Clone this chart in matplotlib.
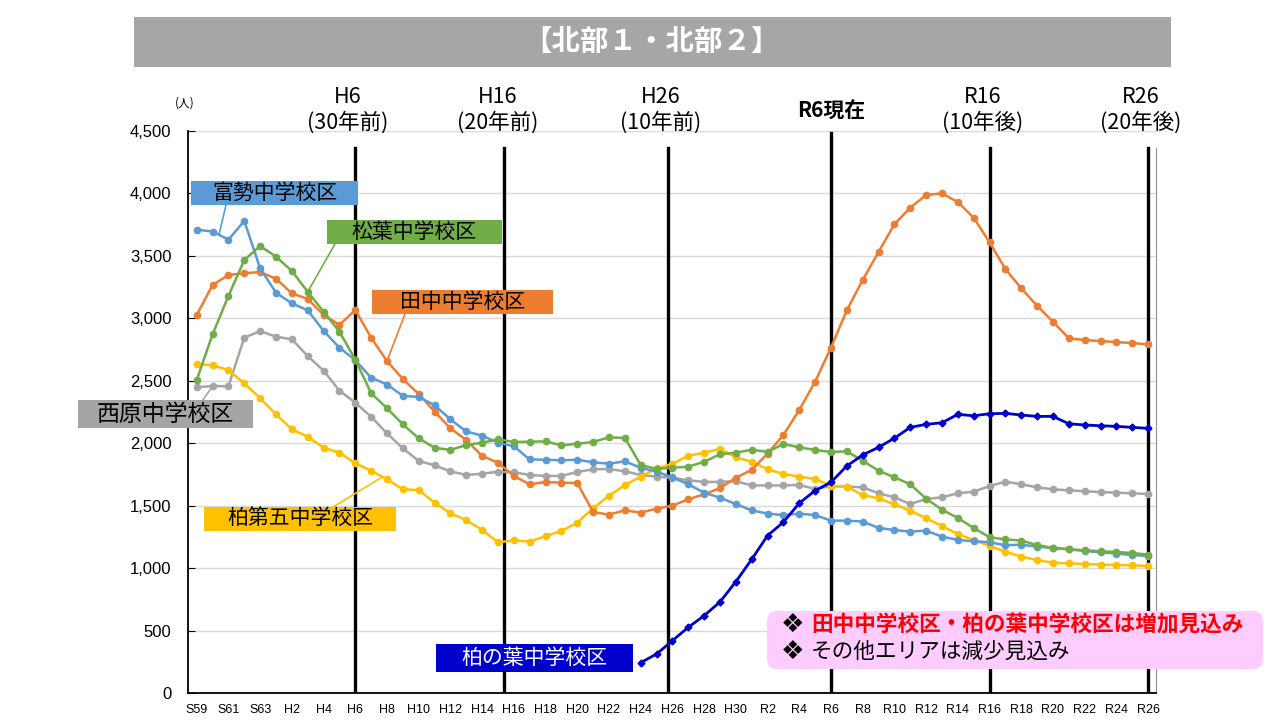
import matplotlib.pyplot as plt
import matplotlib.transforms as mtrans
from matplotlib.patches import Rectangle, FancyBboxPatch

# 1984 (S59) .. 2044 (R26)
years = list(range(1984, 2045))
tick_labels = ["S59", "S61", "S63", "H2", "H4", "H6", "H8", "H10", "H12", "H14",
               "H16", "H18", "H20", "H22", "H24", "H26", "H28", "H30", "R2", "R4",
               "R6", "R8", "R10", "R12", "R14", "R16", "R18", "R20", "R22", "R24", "R26"]

tomise = [3710, 3695, 3630, 3780, 3400, 3205, 3120, 3065, 2900, 2765,
          2665, 2525, 2470, 2380, 2370, 2305, 2190, 2095, 2060, 2005,
          1975, 1870, 1868, 1863, 1868, 1847, 1836, 1855, 1804, 1772,
          1727, 1671, 1604, 1564, 1513, 1462, 1437, 1424, 1436, 1425,
          1380, 1380, 1373, 1322, 1305, 1292, 1300, 1252, 1225, 1215,
          1207, 1183, 1188, 1172, 1161, 1151, 1137, 1127, 1116, 1105, 1097]

matsuba = [2506, 2872, 3179, 3467, 3579, 3494, 3379, 3213, 3053, 2893,
           2670, 2400, 2280, 2151, 2039, 1964, 1946, 1986, 2004, 2031,
           2010, 2012, 2015, 1983, 1996, 2010, 2047, 2042, 1826, 1794,
           1804, 1812, 1852, 1911, 1924, 1948, 1930, 1994, 1967, 1946,
           1930, 1935, 1860, 1780, 1727, 1671, 1556, 1468, 1401, 1321,
           1247, 1230, 1220, 1185, 1161, 1151, 1143, 1135, 1129, 1121, 1108]

tanaka = [3027, 3267, 3347, 3361, 3371, 3317, 3200, 3155, 3027, 2947,
          3067, 2845, 2658, 2514, 2394, 2253, 2119, 2026, 1898, 1844,
          1738, 1671, 1690, 1684, 1681, 1449, 1428, 1463, 1444, 1476,
          1500, 1551, 1591, 1640, 1724, 1786, 1917, 2066, 2266, 2493,
          2765, 3064, 3307, 3531, 3753, 3886, 3987, 4001, 3931, 3806,
          3609, 3395, 3240, 3101, 2973, 2840, 2826, 2818, 2810, 2802, 2792]

nishihara = [2448, 2458, 2456, 2845, 2898, 2853, 2832, 2698, 2581, 2421,
             2325, 2212, 2079, 1959, 1858, 1823, 1775, 1746, 1756, 1772,
             1767, 1746, 1738, 1738, 1770, 1791, 1794, 1775, 1746, 1732,
             1724, 1703, 1690, 1690, 1696, 1662, 1662, 1662, 1666, 1634,
             1657, 1652, 1647, 1599, 1567, 1513, 1553, 1567, 1599, 1612,
             1657, 1692, 1671, 1647, 1631, 1623, 1615, 1609, 1604, 1599, 1593]

daigo = [2634, 2624, 2586, 2480, 2360, 2231, 2111, 2052, 1964, 1924,
         1839, 1780, 1711, 1631, 1625, 1524, 1439, 1385, 1305, 1207,
         1222, 1212, 1257, 1297, 1364, 1479, 1580, 1665, 1732, 1799,
         1834, 1900, 1924, 1954, 1887, 1852, 1791, 1754, 1732, 1714,
         1660, 1652, 1585, 1559, 1511, 1460, 1399, 1337, 1273, 1225,
         1177, 1132, 1092, 1065, 1043, 1038, 1033, 1028, 1025, 1022, 1017]

# 柏の葉 starts in H24 (2012)
kashiwanoha_years = list(range(2012, 2045))
kashiwanoha = [243, 312, 419, 526, 619, 729, 891, 1070, 1260, 1368,
               1520, 1620, 1687, 1818, 1906, 1967, 2040, 2127, 2151, 2164,
               2231, 2220, 2236, 2239, 2226, 2215, 2215, 2156, 2146, 2140,
               2135, 2127, 2119]

ref_years = [1994, 2004, 2014, 2024, 2034, 2044]
ref_top = ["H6", "H16", "H26", "", "R16", "R26"]
ref_bottom = ["(30年前)", "(20年前)", "(10年前)", "", "(10年後)", "(20年後)"]

W, H = 1287, 725
JP = ['Noto Sans CJK JP', 'DejaVu Sans']
NARROW = ['Liberation Sans Narrow', 'Liberation Sans', 'DejaVu Sans']
plt.rcParams['font.family'] = JP

fig = plt.figure(figsize=(W / 100, H / 100), dpi=100)
ax = fig.add_axes([188 / W, 1 - 693 / H, (1156 - 188) / W, (693 - 131) / H])
PX = mtrans.Affine2D().scale(1 / 100) + fig.dpi_scale_trans  # pixel coords, origin bottom-left


def fx(x):
    return x / W


def fy(y):
    return 1 - y / H


colors = {'富勢': '#5B9BD5', '松葉': '#70AD47', '田中': '#ED7D31',
          '西原': '#A5A5A5', '第五': '#FFC000', '柏の葉': '#0000CC'}

ax.plot(years, nishihara, color=colors['西原'], lw=1.8, marker='o', ms=4.5, zorder=3)
ax.plot(years, daigo, color=colors['第五'], lw=1.8, marker='o', ms=4.5, zorder=3)
ax.plot(years, tanaka, color=colors['田中'], lw=1.8, marker='o', ms=4.5, zorder=3)
ax.plot(years, tomise, color=colors['富勢'], lw=1.8, marker='o', ms=4.5, zorder=3)
ax.plot(years, matsuba, color=colors['松葉'], lw=1.8, marker='o', ms=4.5, zorder=3)
ax.plot(kashiwanoha_years, kashiwanoha, color=colors['柏の葉'], lw=2, marker='D', ms=3.5, zorder=3)

ax.set_xlim(1983.45, 2044.5)
ax.set_ylim(0, 4500)
ax.set_yticks(range(0, 4501, 500))
ax.set_yticklabels([f"{v:,}" for v in range(0, 4501, 500)], family=NARROW, fontsize=12)
ax.set_xticks(years[::2])
ax.set_xticklabels(tick_labels, family=NARROW, fontsize=9)
ax.tick_params(axis='y', direction='in', length=5, pad=12)
ax.tick_params(axis='x', length=0, pad=8)
ax.yaxis.grid(True, color='#D9D9D9', lw=1)
ax.set_axisbelow(True)
ax.spines['top'].set_visible(False)
ax.spines['left'].set_linewidth(1.3)
ax.spines['bottom'].set_linewidth(1.3)
ax.spines['right'].set_color('#909090')
ax.spines['right'].set_linewidth(0.8)
ax.spines['right'].set_bounds(0, 4365)

# reference year lines
nudge = [0, -0.6, -0.3, 0, 0, 0]
bt = mtrans.blended_transform_factory(ax.transData, fig.transFigure)
for yr, dn, top, bot in zip(ref_years, nudge, ref_top, ref_bottom):
    ymax = 0.997 if yr == 2024 else 0.97
    ax.axvline(yr + dn, ymax=ymax, color='black', lw=2.4, zorder=2)
    if top:
        ax.text(yr + dn - 0.45, fy(97), top, transform=bt, ha='center', va='center', fontsize=15.5)
        ax.text(yr + dn - 0.45, fy(123), bot, transform=bt, ha='center', va='center', fontsize=15.5)
ax.text(2024, fy(111), "R6現在", transform=bt, ha='center', va='center', fontsize=15, weight='bold')

fig.text(fx(185), fy(103), "(人)", ha='center', va='center', fontsize=8.5)

# title bar
fig.add_artist(Rectangle((134, H - 67), 1037, 50, transform=PX, color='#A6A6A6', lw=0))
fig.text(fx(652), fy(43), "【北部１・北部２】", ha='center', va='center',
         fontsize=20.5, weight='bold', color='white')

# series name boxes: (label, color, box x0, x1, y0, y1, text color, size, leader box pt, leader data pt)
boxes = [
    ("富勢中学校区", colors['富勢'], 191, 358, 181, 205, 'black', 15, (226, 205), (1985.4, 3667)),
    ("松葉中学校区", colors['松葉'], 327, 502, 220, 244, 'black', 15, (335, 244), (1991.0, 3213)),
    ("田中中学校区", colors['田中'], 372, 553, 290, 314, 'black', 15, (405, 314), (1996.0, 2658)),
    ("西原中学校区", colors['西原'], 78, 253, 400, 428, 'black', 16.5, (203, 400), (1985.0, 2458)),
    ("柏第五中学校区", colors['第五'], 204, 396, 507, 531, 'black', 15, (333, 507), (1995.7, 1730)),
    ("柏の葉中学校区", colors['柏の葉'], 436, 633, 644, 672, 'white', 15, None, None),
]
for label, col, x0, x1, y0, y1, tc, fs, lp, dp in boxes:
    fig.add_artist(Rectangle((x0, H - y1), x1 - x0, y1 - y0, transform=PX, color=col, lw=0, zorder=4))
    fig.text(fx((x0 + x1) / 2), fy((y0 + y1) / 2), label, ha='center', va='center',
             fontsize=fs, color=tc, zorder=5)
    if lp is not None:
        ax.annotate('', xy=dp, xycoords='data', xytext=(fx(lp[0]), fy(lp[1])),
                    textcoords='figure fraction', annotation_clip=False,
                    arrowprops=dict(arrowstyle='-', color=col, lw=1.2, shrinkA=0, shrinkB=0))

# note box
fig.add_artist(FancyBboxPatch((767, H - 669), 496, 58, transform=PX,
                              boxstyle='round,pad=0,rounding_size=10',
                              fc='#FFCCFF', ec='none', zorder=4))
for yy in (625, 652):
    fig.text(fx(793), fy(yy), "❖", ha='center', va='center', fontsize=19,
             family=['DejaVu Sans'], color='black', zorder=5)
fig.text(fx(811), fy(625), "田中中学校区・柏の葉中学校区は増加見込み", ha='left', va='center',
         fontsize=15.6, weight='bold', color='#FF0000', zorder=5)
fig.text(fx(811), fy(652), "その他エリアは減少見込み", ha='left', va='center',
         fontsize=15.6, color='black', zorder=5)

fig.savefig("out.png", dpi=100)
